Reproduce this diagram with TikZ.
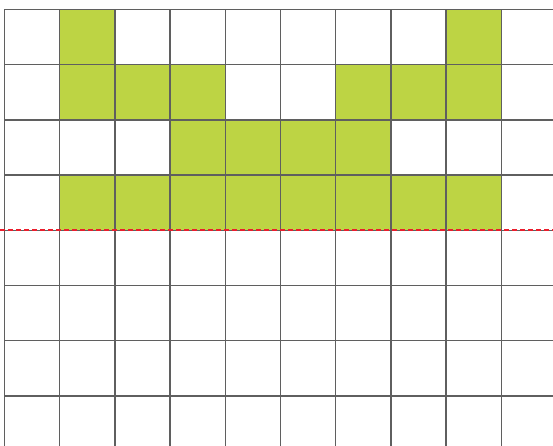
\documentclass[tikz,border=0pt]{standalone}
\definecolor{cellgreen}{RGB}{189,212,68}
\definecolor{gridgray}{RGB}{95,95,95}
\definecolor{cutred}{RGB}{235,30,45}
\begin{document}
\begin{tikzpicture}[x=1pt,y=-1pt,
  gridline/.style={draw=gridgray,line width=1.4pt},
  filled/.style={fill=cellgreen},
  cutline/.style={draw=cutred,line width=2pt,dash pattern=on 5pt off 3pt}]
\useasboundingbox (0,0) rectangle (553,446);
\def\ox{4.5}\def\oy{9.5}\def\cs{55.2}
% green cells (col,row)
\foreach \c/\r in {1/0,8/0,1/1,2/1,3/1,6/1,7/1,8/1,3/2,4/2,5/2,6/2,1/3,2/3,3/3,4/3,5/3,6/3,7/3,8/3}{
  \fill[filled] ({\ox+\c*\cs},{\oy+\r*\cs}) rectangle ({\ox+(\c+1)*\cs},{\oy+(\r+1)*\cs});
}
% grid lines
\foreach \k in {0,...,9}{
  \draw[gridline] ({\ox+\k*\cs},\oy) -- ({\ox+\k*\cs},446);
}
\foreach \k in {0,...,7}{
  \draw[gridline] (\ox,{\oy+\k*\cs}) -- (553,{\oy+\k*\cs});
}
% cut line
\draw[cutline] (0,{\oy+4*\cs}) -- (553,{\oy+4*\cs});
\end{tikzpicture}
\end{document}
